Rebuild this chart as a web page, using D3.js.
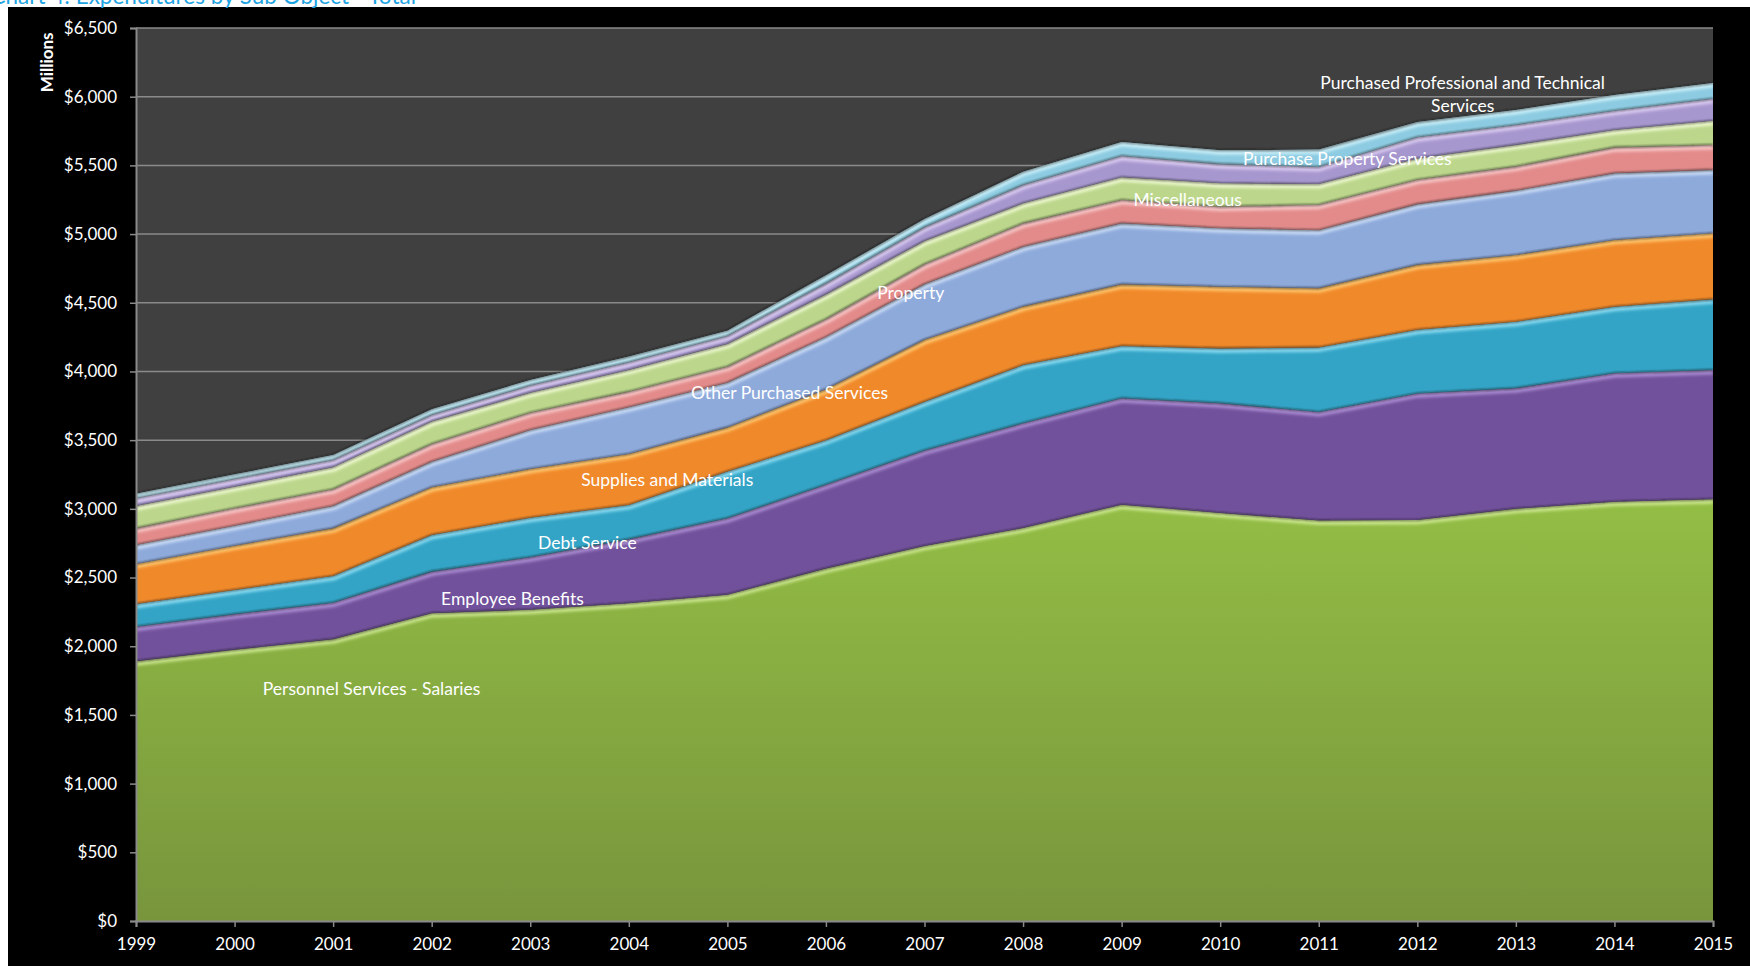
<!DOCTYPE html>
<html>
<head>
<meta charset="utf-8">
<script src="https://cdn.jsdelivr.net/npm/d3@7"></script>
<style>
  html, body { margin: 0; padding: 0; background: #ffffff; overflow: hidden; }
  svg { display: block; }
  text { font-family: Lato, "Open Sans", sans-serif; }
</style>
</head>
<body>
<svg id="chart" width="1750" height="966"></svg>
<script>
// ---- data (millions of dollars per fiscal year) ----
const years = [1999, 2000, 2001, 2002, 2003, 2004, 2005, 2006, 2007, 2008, 2009, 2010, 2011, 2012, 2013, 2014, 2015];

const salaries       = [1890, 1975, 2050, 2240, 2265, 2313, 2375, 2565, 2730, 2860, 3030, 2970, 2915, 2919, 3000, 3052, 3070];
const benefits       = [252, 257, 267, 303, 383, 465, 556, 610, 695, 763, 775, 798, 790, 921, 877, 935, 940];
const debtService    = [165, 177, 194, 267, 287, 250, 340, 325, 355, 424, 380, 400, 470, 464, 485, 484, 515];
const supplies       = [292, 323, 347, 347, 355, 371, 322, 370, 450, 425, 449, 449, 430, 472, 486, 486, 481];
const otherPurchased = [138, 145, 163, 186, 284, 340, 325, 380, 405, 436, 444, 425, 423, 442, 468, 485, 461];
const property       = [121, 127, 121, 129, 126, 114, 117, 130, 145, 170, 170, 157, 186, 177, 175, 189, 181];
const miscellaneous  = [163, 157, 160, 163, 145, 158, 165, 180, 170, 146, 165, 171, 150, 155, 158, 127, 177];
const propertySvc    = [56, 56, 54, 48, 53, 56, 58, 80, 100, 133, 155, 139, 124, 155, 145, 140, 160];
const profTechSvc    = [33, 34, 36, 42, 40, 41, 39, 60, 60, 97, 102, 101, 127, 110, 109, 114, 115];

const seriesNames = [
  "Personnel Services - Salaries",
  "Employee Benefits",
  "Debt Service",
  "Supplies and Materials",
  "Other Purchased Services",
  "Property",
  "Miscellaneous",
  "Purchase Property Services",
  "Purchased Professional and Technical Services"
];
const seriesValues = [salaries, benefits, debtService, supplies, otherPurchased,
                      property, miscellaneous, propertySvc, profTechSvc];

const yTicks = [0, 500, 1000, 1500, 2000, 2500, 3000, 3500, 4000, 4500, 5000, 5500, 6000, 6500];

// ---- styling ----
const fills      = ["#8cb642", "#71519b", "#33a4c6", "#f0892a", "#8eaadb", "#e38b8b", "#bcd78c", "#a797cf", "#8ccbe1"];
const highlights = ["#c9e58a", "#a98bd2", "#86d9f0", "#ffc46a", "#c8dbf6", "#f8c4c4", "#ecf8cc", "#d8caf0", "#c8eef8"];

// label anchors in data space: [year, value]; multi-line labels list their lines
const labelAnchors = [
  { lines: ["Personnel Services - Salaries"], at: [2001.39, 1689] },
  { lines: ["Employee Benefits"], at: [2002.82, 2344] },
  { lines: ["Debt Service"], at: [2003.58, 2751] },
  { lines: ["Supplies and Materials"], at: [2004.39, 3210] },
  { lines: ["Other Purchased Services"], at: [2005.63, 3843] },
  { lines: ["Property"], at: [2006.86, 4571] },
  { lines: ["Miscellaneous"], at: [2009.67, 5248] },
  { lines: ["Purchase Property Services"], at: [2011.29, 5547] },
  { lines: ["Purchased Professional and Technical", "Services"], at: [2012.46, 6100] }
];

// ---- layout ----
const W = 1750, H = 966;
const plot = { left: 136, right: 1713, top: 28, bottom: 921 };

const svg = d3.select("#chart");
const defs = svg.append("defs");

// page background and chart area
svg.append("rect").attr("width", W).attr("height", H).attr("fill", "#ffffff");
svg.append("rect").attr("x", 8).attr("y", 7).attr("width", W - 8).attr("height", H - 7).attr("fill", "#000000");

svg.append("text")
  .attr("x", 416).attr("y", 4)
  .attr("text-anchor", "end")
  .attr("fill", "#1ea3e2")
  .attr("font-size", 22.5)
  .text("Chart 4: Expenditures by Sub Object - Total");

const x = d3.scaleLinear().domain([years[0], years[years.length - 1]]).range([plot.left, plot.right]);
const y = d3.scaleLinear().domain([0, 6500]).range([plot.bottom, plot.top]);

// plot background
svg.append("rect")
  .attr("x", plot.left).attr("y", plot.top)
  .attr("width", plot.right - plot.left).attr("height", plot.bottom - plot.top)
  .attr("fill", "#404040");

// gridlines
svg.append("g").selectAll("line").data(yTicks.filter(v => v > 0)).join("line")
  .attr("x1", plot.left).attr("x2", plot.right)
  .attr("y1", d => y(d)).attr("y2", d => y(d))
  .attr("stroke", "#8a8a8a").attr("stroke-width", 1.5);

// stacked data
const table = years.map((yr, i) => {
  const row = { year: yr };
  seriesNames.forEach((n, k) => { row[n] = seriesValues[k][i]; });
  return row;
});
const stacked = d3.stack().keys(seriesNames)(table);

const area = d3.area().x(d => x(d.data.year)).y0(d => y(d[0])).y1(d => y(d[1]));
const topLine = d3.line().x(d => x(d.data.year)).y(d => y(d[1]));

// soft blur used for bevel highlights
defs.append("filter").attr("id", "soft").attr("x", "-5%").attr("y", "-5%").attr("width", "110%").attr("height", "110%")
  .append("feGaussianBlur").attr("stdDeviation", 1.6);
defs.append("filter").attr("id", "shadow").attr("x", "-5%").attr("y", "-5%").attr("width", "110%").attr("height", "110%")
  .append("feGaussianBlur").attr("stdDeviation", 0.9);

// vertical shading for the salaries layer
const g0 = defs.append("linearGradient").attr("id", "grad0")
  .attr("gradientUnits", "userSpaceOnUse")
  .attr("x1", 0).attr("x2", 0).attr("y1", y(3100)).attr("y2", y(0));
g0.append("stop").attr("offset", "0%").attr("stop-color", "#93be45");
g0.append("stop").attr("offset", "100%").attr("stop-color", "#78953c");

// plot clip
defs.append("clipPath").attr("id", "plotClip").append("rect")
  .attr("x", plot.left).attr("y", plot.top)
  .attr("width", plot.right - plot.left).attr("height", plot.bottom - plot.top);

const layersG = svg.append("g").attr("clip-path", "url(#plotClip)");

stacked.forEach((layer, k) => {
  const id = "layerClip" + k;
  defs.append("clipPath").attr("id", id).append("path").attr("d", area(layer));

  const g = layersG.append("g");
  g.append("path")
    .attr("d", area(layer))
    .attr("fill", k === 0 ? "url(#grad0)" : fills[k]);

  // bevel highlight along the top edge, plus the left and right ends
  const hg = g.append("g").attr("clip-path", `url(#${id})`);
  hg.append("path")
    .attr("d", topLine(layer))
    .attr("fill", "none")
    .attr("stroke", highlights[k])
    .attr("stroke-width", 9)
    .attr("stroke-linejoin", "round")
    .attr("filter", "url(#soft)");
  [layer[0], layer[layer.length - 1]].forEach(end => {
    hg.append("line")
      .attr("x1", x(end.data.year)).attr("x2", x(end.data.year))
      .attr("y1", y(end[1])).attr("y2", y(end[0]))
      .attr("stroke", highlights[k]).attr("stroke-opacity", 0.6)
      .attr("stroke-width", 6).attr("filter", "url(#soft)");
  });
});

// dark seams between layers
stacked.forEach(layer => {
  layersG.append("path")
    .attr("d", topLine(layer))
    .attr("fill", "none")
    .attr("stroke", "#1a1a1a")
    .attr("stroke-opacity", 0.75)
    .attr("stroke-width", 1.6)
    .attr("filter", "url(#shadow)");
});

// axes
const yAxis = d3.axisLeft(y).tickValues(yTicks)
  .tickFormat(d => "$" + d3.format(",")(d))
  .tickSize(6).tickPadding(13);
const xAxis = d3.axisBottom(x).tickValues(years)
  .tickFormat(d3.format("d"))
  .tickSize(6).tickPadding(11);

const gy = svg.append("g").attr("transform", `translate(${plot.left},0)`).call(yAxis);
const gx = svg.append("g").attr("transform", `translate(0,${plot.bottom})`).call(xAxis);
[gy, gx].forEach(g => {
  g.select(".domain").attr("stroke", "#8a8a8a").attr("stroke-width", 2);
  g.selectAll(".tick line").attr("stroke", "#8a8a8a").attr("stroke-width", 1.5);
  g.selectAll(".tick text").attr("fill", "#ffffff").attr("font-size", 17)
    .attr("font-family", "Lato, 'Open Sans', sans-serif");
});

// axis title
svg.append("text")
  .attr("transform", `translate(53,${y(6250)}) rotate(-90)`)
  .attr("text-anchor", "middle")
  .attr("fill", "#ffffff")
  .attr("font-size", 17)
  .attr("font-weight", "bold")
  .text("Millions");

// series labels
const lab = svg.append("g");
labelAnchors.forEach(a => {
  const t = lab.append("text")
    .attr("x", x(a.at[0]))
    .attr("y", y(a.at[1]) + 6)
    .attr("text-anchor", "middle")
    .attr("fill", "#ffffff")
    .attr("font-size", 17.5);
  a.lines.forEach((ln, i) => {
    t.append("tspan").attr("x", x(a.at[0])).attr("dy", i === 0 ? 0 : 23.5).text(ln);
  });
});
</script>
</body>
</html>
